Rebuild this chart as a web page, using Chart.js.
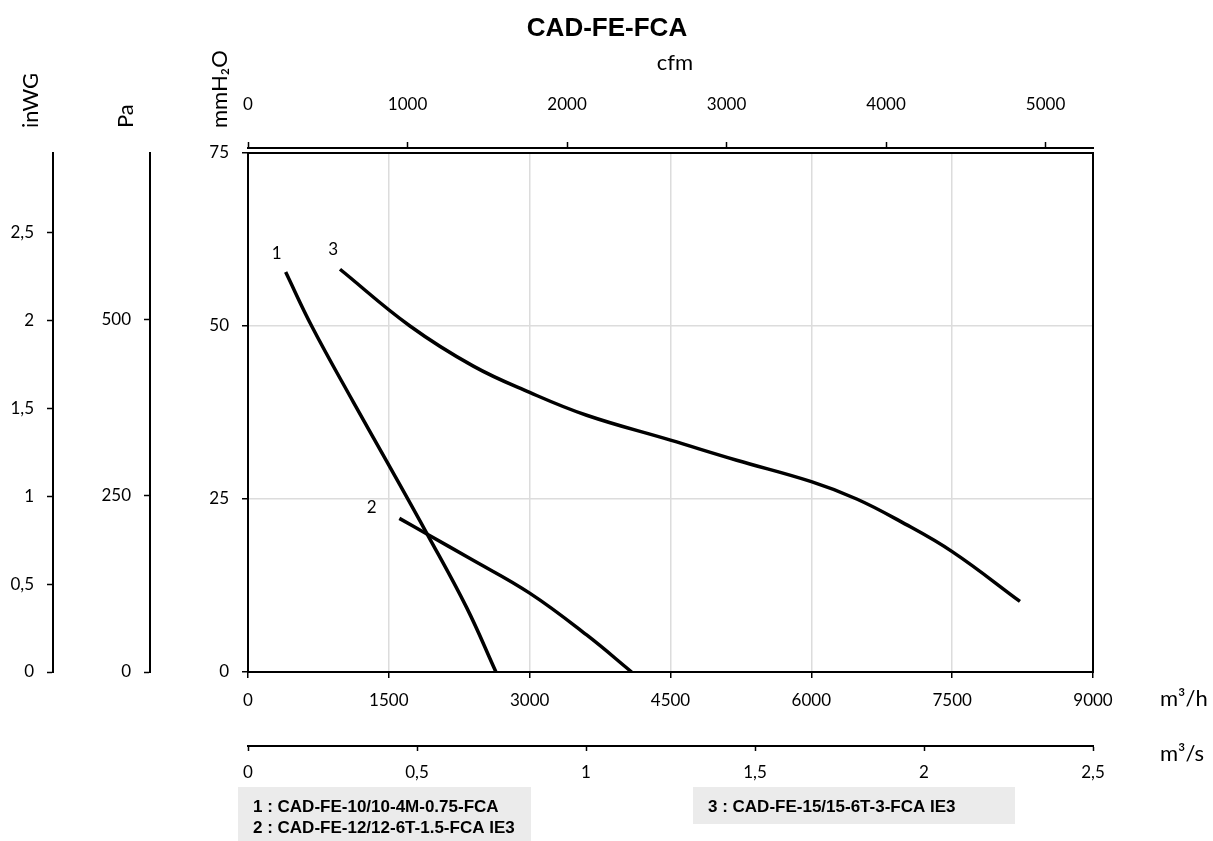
<!DOCTYPE html>
<html>
<head>
<meta charset="utf-8">
<title>CAD-FE-FCA</title>
<script src="https://cdn.jsdelivr.net/npm/chart.js@4.4.0/dist/chart.umd.min.js"></script>
<style>
  html, body { margin: 0; padding: 0; background: #fff; }
  #wrap { width: 1213px; height: 841px; }
</style>
</head>
<body>
<div id="wrap"><canvas id="chart" width="1213" height="841"></canvas></div>
<script>
// titres et unités
const chartTitle = 'CAD-FE-FCA';
const legendLines = [
  '1 : CAD-FE-10/10-4M-0.75-FCA',
  '2 : CAD-FE-12/12-6T-1.5-FCA IE3',
  '3 : CAD-FE-15/15-6T-3-FCA IE3'
];

// courbes débit (m³/h) / pression (mmH2O)
const flow1 = [401, 678, 1122, 1500, 1910, 2329, 2641];
const press1 = [57.8, 50, 39.0, 29.9, 19.9, 9.3, 0];

const flow2 = [1612, 1910, 2365, 3000, 3607, 4086];
const press2 = [22.2, 19.9, 16.4, 11.4, 5.35, 0];

const flow3 = [980, 1725, 2400, 3000, 3607, 4500, 5205, 6000, 6483, 6944, 7500, 8222];
const press3 = [58.2, 50, 44.2, 40.4, 37.1, 33.5, 30.6, 27.5, 25, 21.8, 17.4, 10.2];

// numéros de courbe (position en unités du graphique)
const curveNames = ['1', '2', '3'];
const nameFlow = [306, 1317, 908];
const namePress = [60.5, 23.7, 61.1];

// graduations
const flowTicks = [0, 1500, 3000, 4500, 6000, 7500, 9000];      // m³/h
const flowSecTicks = [0, 0.5, 1, 1.5, 2, 2.5];                   // m³/s
const cfmTicks = [0, 1000, 2000, 3000, 4000, 5000];
const mmTicks = [0, 25, 50, 75];                                 // mmH2O
const paTicks = [0, 250, 500];
const inwgTicks = [0, 0.5, 1, 1.5, 2, 2.5];

// conversions
const flowMax = 9000;          // m³/h
const pressMax = 75;           // mmH2O
const cfmPerM3h = 1 / 1.699;
const paPerMm = 9.80665;
const inwgPerMm = 1 / 25.4;

const comma = v => String(v).replace('.', ',');
const plain = v => String(v);
const fixTicks = list => (s => { s.ticks = list.map(v => ({ value: v })); });

Chart.defaults.font.family = 'Lato, "Open Sans", sans-serif';
Chart.defaults.font.size = 17;
Chart.defaults.color = '#000';

const toPoints = (xs, ys) => xs.map((x, i) => ({ x: x, y: ys[i] }));

const lineStyle = {
  showLine: true,
  borderColor: '#000',
  borderWidth: 3.5,
  pointRadius: 0,
  tension: 0.4,
  fill: false
};

const gridAxis = {
  grid: { color: '#dcdcdc', lineWidth: 1.5, tickColor: '#000', tickLength: 6, tickWidth: 1.5 },
  border: { color: '#000', width: 2 }
};
const sideAxis = {
  grid: { drawOnChartArea: false, tickColor: '#000', tickLength: 6, tickWidth: 1.5 },
  border: { color: '#000', width: 2 }
};
const bareAxis = {
  ticks: { display: false },
  grid: { drawOnChartArea: false, drawTicks: false },
  border: { color: '#000', width: 2 }
};

// textes hors axes : titre, unités, numéros, légende
const textPlugin = {
  id: 'chartText',
  afterDraw(chart) {
    const ctx = chart.ctx;
    const sx = chart.scales.x, sy = chart.scales.y;
    ctx.save();
    ctx.fillStyle = '#000';

    ctx.font = 'bold 26px "Liberation Sans", Arial, sans-serif';
    ctx.textAlign = 'center';
    ctx.textBaseline = 'alphabetic';
    ctx.fillText(chartTitle, 607, 36);

    ctx.font = '22px Lato, sans-serif';
    ctx.fillText('cfm', 675, 70);

    ctx.textAlign = 'left';
    ctx.fillText('m³/h', 1160, 706);
    ctx.fillText('m³/s', 1160, 761);

    [['mmH₂O', 227], ['Pa', 133], ['inWG', 38]].forEach(([t, x]) => {
      ctx.save();
      ctx.translate(x, 128);
      ctx.rotate(-Math.PI / 2);
      ctx.fillText(t, 0, 0);
      ctx.restore();
    });

    ctx.font = '17px Lato, sans-serif';
    ctx.textAlign = 'center';
    ctx.textBaseline = 'middle';
    curveNames.forEach((n, i) => {
      ctx.fillText(n, sx.getPixelForValue(nameFlow[i]), sy.getPixelForValue(namePress[i]));
    });

    ctx.fillStyle = '#ebebeb';
    ctx.fillRect(238, 787, 293, 60);
    ctx.fillRect(693, 787, 322, 37);
    ctx.fillStyle = '#000';
    ctx.font = 'bold 17px "Liberation Sans", Arial, sans-serif';
    ctx.textAlign = 'left';
    ctx.textBaseline = 'alphabetic';
    ctx.fillText(legendLines[0], 253, 812);
    ctx.fillText(legendLines[1], 253, 833);
    ctx.fillText(legendLines[2], 708, 812);
    ctx.restore();
  }
};

const chart = new Chart(document.getElementById('chart'), {
  type: 'scatter',
  data: {
    datasets: [
      Object.assign({ label: legendLines[0], data: toPoints(flow1, press1) }, lineStyle),
      Object.assign({ label: legendLines[1], data: toPoints(flow2, press2) }, lineStyle),
      Object.assign({ label: legendLines[2], data: toPoints(flow3, press3) }, lineStyle)
    ]
  },
  options: {
    responsive: false,
    animation: false,
    layout: { padding: 0 },
    plugins: { legend: { display: false }, tooltip: { enabled: false } },
    scales: {
      x: Object.assign({
        type: 'linear', position: 'bottom', min: 0, max: flowMax,
        ticks: { padding: 12, maxRotation: 0, callback: plain },
        afterBuildTicks: fixTicks(flowTicks),
        afterFit: s => { s.height = 74; }
      }, gridAxis),
      xs: Object.assign({
        type: 'linear', position: 'bottom', min: 0, max: flowMax / 3600,
        ticks: { padding: 11, maxRotation: 0, callback: comma },
        afterBuildTicks: fixTicks(flowSecTicks),
        afterFit: s => { s.height = 95; }
      }, { grid: { drawOnChartArea: false, tickColor: '#000', tickLength: 5, tickWidth: 1.5 },
           border: { color: '#000', width: 2 } }),
      xTop: Object.assign({
        type: 'linear', position: 'top', min: 0, max: flowMax,
        afterFit: s => { s.height = 5; }
      }, bareAxis),
      cfm: Object.assign({
        type: 'linear', position: 'top', min: 0, max: flowMax * cfmPerM3h,
        ticks: { padding: 27, maxRotation: 0, callback: plain },
        afterBuildTicks: fixTicks(cfmTicks),
        afterFit: s => { s.height = 148; }
      }, sideAxis),
      y: Object.assign({
        type: 'linear', position: 'left', min: 0, max: pressMax,
        ticks: { padding: 13, callback: plain },
        afterBuildTicks: fixTicks(mmTicks),
        afterFit: s => { s.width = 98; }
      }, gridAxis),
      yPa: Object.assign({
        type: 'linear', position: 'left', min: 0, max: pressMax * paPerMm,
        ticks: { padding: 13, callback: plain },
        afterBuildTicks: fixTicks(paTicks),
        afterFit: s => { s.width = 97; }
      }, sideAxis),
      yIn: Object.assign({
        type: 'linear', position: 'left', min: 0, max: pressMax * inwgPerMm,
        ticks: { padding: 13, callback: comma },
        afterBuildTicks: fixTicks(inwgTicks),
        afterFit: s => { s.width = 53; }
      }, sideAxis),
      yR: Object.assign({
        type: 'linear', position: 'right', min: 0, max: pressMax,
        afterFit: s => { s.width = 120; }
      }, bareAxis)
    }
  },
  plugins: [textPlugin]
});
</script>
</body>
</html>
